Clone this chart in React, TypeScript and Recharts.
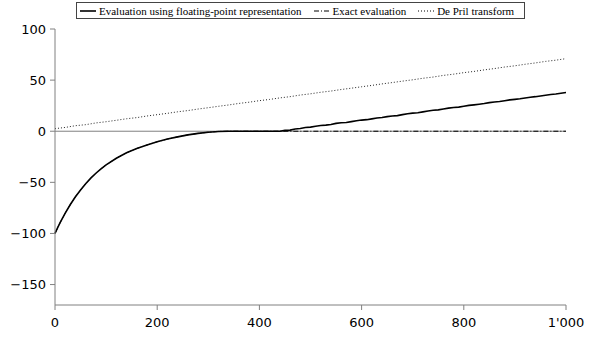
import { LineChart, Line, XAxis, YAxis, ReferenceLine } from 'recharts'

// valores
const floatX = [0, 5, 10, 20, 30, 40, 50, 60, 70, 80, 90, 100, 120, 140, 160, 180, 200, 220, 240, 260, 280, 300, 320, 340, 360, 380, 400, 420, 440,
  450, 460, 470, 480, 490, 500, 510, 520, 530, 540, 550, 560, 570, 580, 590, 600, 610, 620, 630, 640, 650, 660, 670, 680, 690, 700,
  710, 720, 730, 740, 750, 760, 770, 780, 790, 800, 810, 820, 830, 840, 850, 860, 870, 880, 890, 900, 910, 920, 930, 940, 950, 960,
  970, 980, 990, 1000]
const floatY = [-100, -94.6, -89.5, -80.1, -71.7, -64.1, -57.4, -51.3, -45.9, -41.1, -36.8, -32.9, -26.4, -21.1, -16.9, -13.5, -10.3, -7.7, -5.5, -3.6, -2.1, -1.0, -0.2, 0, 0, 0, 0, 0, 0,
  0.8, 1.1, 2.2, 2.6, 3.6, 4.0, 4.9, 5.6, 6.0, 6.6, 7.7, 8.3, 8.6, 9.4, 10.3, 10.9, 11.3, 12.1, 12.9, 13.4, 14.3, 14.9, 15.3, 16.2, 17.1, 17.7,
  18.1, 18.9, 19.8, 20.5, 20.9, 21.7, 22.6, 23.2, 23.6, 24.4, 25.3, 25.8, 26.4, 27.1, 28.0, 28.6, 29.0, 29.8, 30.7, 31.2, 31.7, 32.5, 33.3, 33.8, 34.5, 35.2,
  35.9, 36.4, 37.1, 37.8]

const exactX = [0, 5, 10, 20, 30, 40, 50, 60, 70, 80, 90, 100, 120, 140, 160, 180, 200, 220, 240, 260, 280, 300, 320, 340, 1000]
const exactY = [-100, -94.6, -89.5, -80.1, -71.7, -64.1, -57.4, -51.3, -45.9, -41.1, -36.8, -32.9, -26.4, -21.1, -16.9, -13.5, -10.3, -7.7, -5.5, -3.6, -2.1, -1.0, -0.2, 0, 0]

const deprilX = [0, 20, 40, 60, 80, 100, 120, 140, 160, 180, 200, 220, 240, 260, 280, 300, 320, 340, 360, 380, 400, 420, 440, 460, 480, 500,
  520, 540, 560, 580, 600, 620, 640, 660, 680, 700, 720, 740, 760, 780, 800, 820, 840, 860, 880, 900, 920, 940, 960, 980, 1000]
const deprilY = [2.5, 3.7, 5.4, 6.4, 8.1, 9.3, 10.7, 12.2, 13.3, 14.9, 16.2, 17.5, 19.0, 20.2, 21.7, 23.0, 24.4, 25.7, 27.2, 28.4, 29.9, 31.1, 32.6, 33.8, 35.4, 36.6,
  38.1, 39.3, 40.8, 42.1, 43.5, 44.8, 46.3, 47.6, 49.0, 50.3, 51.8, 53.0, 54.6, 55.8, 57.3, 58.5, 60.0, 61.3, 62.8, 64.0, 65.5, 66.8, 68.3, 69.5, 71.0]

const xTicks = [0, 200, 400, 600, 800, 1000]
const yTicks = [-150, -100, -50, 0, 50, 100]

const legendItems = [
  { label: 'Evaluation using floating-point representation', dash: undefined, width: 1.6 },
  { label: 'Exact evaluation', dash: '5 2 1 2', width: 1 },
  { label: 'De Pril transform', dash: '1 2', width: 1 },
]

const toPoints = (xs: number[], ys: number[]) => xs.map((x, i) => ({ x, y: ys[i] }))

const fmtX = (v: number) => (v >= 1000 ? `${Math.floor(v / 1000)}'${String(v % 1000).padStart(3, '0')}` : String(v))
const fmtY = (v: number) => (v < 0 ? `\u2212${Math.abs(v)}` : String(v))

const tickStyle = { fill: '#000', fontSize: 13, fontFamily: 'DejaVu Sans' }

export default function App() {
  return (
    <div style={{ position: 'absolute', left: 0, top: 0, width: 596, height: 338, background: '#fff' }}>
      <LineChart width={596} height={338} margin={{ top: 29, right: 30, bottom: 3, left: 0 }}>
        <XAxis
          dataKey="x"
          type="number"
          domain={[0, 1000]}
          ticks={xTicks}
          tickFormatter={fmtX}
          stroke="#808080"
          tickSize={5}
          tickMargin={8}
          height={30}
          tick={tickStyle}
        />
        <YAxis
          dataKey="y"
          type="number"
          domain={[-170, 100]}
          ticks={yTicks}
          tickFormatter={fmtY}
          stroke="#808080"
          tickSize={5}
          tickMargin={4}
          width={55}
          tick={tickStyle}
        />
        <ReferenceLine y={0} stroke="#808080" strokeWidth={1} />
        <Line data={toPoints(deprilX, deprilY)} dataKey="y" stroke="#222" strokeWidth={1} strokeDasharray="1 2" dot={false} isAnimationActive={false} />
        <Line data={toPoints(exactX, exactY)} dataKey="y" stroke="#000" strokeWidth={1} strokeDasharray="5 2 1 2" dot={false} isAnimationActive={false} />
        <Line data={toPoints(floatX, floatY)} dataKey="y" stroke="#000" strokeWidth={1.6} dot={false} isAnimationActive={false} />
      </LineChart>

      {/* leyenda con recuadro */}
      <div
        style={{
          position: 'absolute', left: 76, top: 2, width: 444, height: 15,
          border: '1px solid #444', display: 'flex', alignItems: 'center', gap: 12,
          paddingLeft: 3, boxSizing: 'content-box',
          fontFamily: '"Liberation Serif", serif', fontSize: 11, color: '#000', whiteSpace: 'nowrap',
        }}
      >
        {legendItems.map((it) => (
          <span key={it.label} style={{ display: 'flex', alignItems: 'center', gap: 3 }}>
            <svg width={16} height={6}>
              <line x1={0} y1={3} x2={16} y2={3} stroke="#000" strokeWidth={it.width} strokeDasharray={it.dash} />
            </svg>
            {it.label}
          </span>
        ))}
      </div>
    </div>
  )
}
